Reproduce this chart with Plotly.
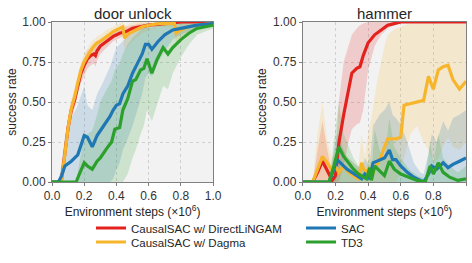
import plotly.graph_objects as go

# ---------------- data: door unlock ----------------
door_red_x = [0, 0.04, 0.06, 0.08, 0.10, 0.12, 0.14, 0.16, 0.18, 0.20, 0.22, 0.24, 0.26, 0.27, 0.28, 0.30, 0.34, 0.38, 0.42, 0.46, 0.50, 0.55, 0.60, 0.70, 0.80, 0.90, 1.0]
door_red_y = [0, 0, 0.02, 0.19, 0.34, 0.45, 0.51, 0.60, 0.68, 0.73, 0.77, 0.79, 0.80, 0.79, 0.82, 0.85, 0.88, 0.91, 0.93, 0.94, 0.96, 0.97, 0.98, 0.99, 1.0, 1.0, 1.0]
door_red_lo = [0, 0, 0, 0.12, 0.28, 0.40, 0.46, 0.55, 0.62, 0.67, 0.71, 0.73, 0.74, 0.72, 0.76, 0.80, 0.84, 0.88, 0.90, 0.92, 0.94, 0.95, 0.97, 0.98, 0.99, 1.0, 1.0]
door_red_hi = [0, 0, 0.05, 0.25, 0.40, 0.50, 0.56, 0.65, 0.73, 0.78, 0.82, 0.84, 0.86, 0.86, 0.87, 0.89, 0.92, 0.94, 0.96, 0.97, 0.98, 0.99, 0.99, 1.0, 1.0, 1.0, 1.0]

door_org_x = [0, 0.04, 0.06, 0.08, 0.10, 0.12, 0.14, 0.16, 0.18, 0.20, 0.22, 0.24, 0.26, 0.28, 0.30, 0.34, 0.38, 0.42, 0.44, 0.45, 0.48, 0.52, 0.56, 0.60, 0.66, 0.72, 0.76, 0.77, 0.80, 0.85, 0.90, 1.0]
door_org_y = [0, 0, 0.01, 0.18, 0.34, 0.46, 0.53, 0.62, 0.70, 0.75, 0.79, 0.82, 0.85, 0.87, 0.88, 0.91, 0.94, 0.96, 0.97, 0.90, 0.93, 0.95, 0.97, 0.98, 0.99, 0.99, 0.99, 0.93, 0.95, 0.97, 0.98, 0.99]
door_org_lo = [0, 0, 0, 0.12, 0.28, 0.41, 0.48, 0.57, 0.65, 0.70, 0.74, 0.77, 0.80, 0.82, 0.84, 0.87, 0.90, 0.92, 0.93, 0.82, 0.86, 0.90, 0.93, 0.95, 0.97, 0.97, 0.97, 0.86, 0.90, 0.94, 0.96, 0.98]
door_org_hi = [0, 0, 0.04, 0.24, 0.40, 0.51, 0.58, 0.67, 0.75, 0.80, 0.84, 0.87, 0.89, 0.91, 0.92, 0.95, 0.97, 0.99, 1.0, 0.97, 0.99, 1.0, 1.0, 1.0, 1.0, 1.0, 1.0, 0.99, 1.0, 1.0, 1.0, 1.0]

door_blue_x = [0, 0.04, 0.06, 0.08, 0.12, 0.16, 0.20, 0.22, 0.25, 0.28, 0.32, 0.36, 0.38, 0.40, 0.42, 0.44, 0.47, 0.50, 0.53, 0.56, 0.58, 0.60, 0.62, 0.66, 0.70, 0.75, 0.80, 0.85, 0.90, 1.0]
door_blue_y = [0, 0, 0.04, 0.10, 0.13, 0.17, 0.29, 0.28, 0.22, 0.29, 0.35, 0.41, 0.45, 0.48, 0.49, 0.55, 0.60, 0.68, 0.74, 0.80, 0.86, 0.86, 0.83, 0.88, 0.92, 0.95, 0.96, 0.97, 0.98, 0.99]
door_blue_lo = [0, 0, 0, 0, 0, 0, 0, 0, 0, 0, 0, 0, 0.02, 0.08, 0.12, 0.20, 0.27, 0.35, 0.45, 0.55, 0.65, 0.68, 0.66, 0.75, 0.82, 0.89, 0.92, 0.94, 0.96, 0.98]
door_blue_hi = [0, 0, 0.12, 0.28, 0.40, 0.48, 0.60, 0.48, 0.45, 0.55, 0.63, 0.72, 0.78, 0.84, 0.86, 0.88, 0.92, 0.95, 0.97, 0.98, 0.99, 0.99, 0.99, 1.0, 1.0, 1.0, 1.0, 1.0, 1.0, 1.0]

door_green_x = [0, 0.15, 0.17, 0.20, 0.22, 0.25, 0.28, 0.30, 0.34, 0.37, 0.39, 0.42, 0.44, 0.47, 0.50, 0.52, 0.55, 0.57, 0.59, 0.62, 0.65, 0.69, 0.72, 0.75, 0.80, 0.85, 0.90, 1.0]
door_green_y = [0, 0, 0.05, 0.12, 0.10, 0.08, 0.13, 0.15, 0.21, 0.25, 0.33, 0.34, 0.45, 0.52, 0.63, 0.64, 0.70, 0.71, 0.77, 0.68, 0.76, 0.84, 0.80, 0.84, 0.89, 0.93, 0.96, 0.98]
door_green_lo = [0, 0, 0, 0, 0, 0, 0, 0, 0, 0, 0, 0, 0, 0.05, 0.15, 0.20, 0.30, 0.35, 0.45, 0.38, 0.48, 0.60, 0.58, 0.68, 0.78, 0.86, 0.92, 0.96]
door_green_hi = [0, 0, 0.12, 0.30, 0.30, 0.32, 0.42, 0.50, 0.58, 0.63, 0.70, 0.74, 0.80, 0.86, 0.90, 0.92, 0.95, 0.96, 0.97, 0.96, 0.98, 0.99, 0.99, 1.0, 1.0, 1.0, 1.0, 1.0]

# ---------------- data: hammer ----------------
ham_red_x = [0, 0.06, 0.09, 0.12, 0.15, 0.18, 0.20, 0.22, 0.25, 0.28, 0.30, 0.33, 0.35, 0.37, 0.40, 0.44, 0.48, 0.52, 0.56, 0.60, 0.70, 1.0]
ham_red_y = [0, 0, 0.06, 0.13, 0.07, 0.01, 0.04, 0.24, 0.42, 0.57, 0.68, 0.71, 0.72, 0.79, 0.87, 0.92, 0.95, 0.98, 0.99, 1.0, 1.0, 1.0]
ham_red_lo = [0, 0, 0, 0, 0, 0, 0, 0, 0.10, 0.25, 0.33, 0.36, 0.37, 0.45, 0.70, 0.85, 0.92, 0.96, 0.98, 1.0, 1.0, 1.0]
ham_red_hi = [0, 0, 0.20, 0.38, 0.20, 0.05, 0.15, 0.50, 0.75, 0.85, 0.92, 0.96, 0.98, 0.99, 1.0, 1.0, 1.0, 1.0, 1.0, 1.0, 1.0, 1.0]

ham_org_x = [0, 0.06, 0.09, 0.12, 0.15, 0.18, 0.20, 0.22, 0.25, 0.28, 0.31, 0.34, 0.36, 0.38, 0.40, 0.42, 0.45, 0.48, 0.50, 0.52, 0.57, 0.60, 0.62, 0.66, 0.70, 0.74, 0.77, 0.80, 0.83, 0.86, 0.89, 0.92, 0.96, 1.0]
ham_org_y = [0, 0, 0.08, 0.16, 0.12, 0.07, 0.10, 0.06, 0.10, 0.06, 0.04, 0.02, 0.12, 0.06, 0.08, 0.03, 0.10, 0.16, 0.22, 0.27, 0.27, 0.28, 0.48, 0.49, 0.50, 0.51, 0.66, 0.58, 0.70, 0.72, 0.73, 0.64, 0.58, 0.63]
ham_org_lo = [0, 0, 0, 0, 0, 0, 0, 0, 0, 0, 0, 0, 0, 0, 0, 0, 0, 0, 0, 0, 0, 0.05, 0.15, 0.30, 0.35, 0.25, 0.20, 0.12, 0.15, 0.22, 0.28, 0.22, 0.20, 0.25]
ham_org_hi = [0, 0, 0.30, 0.50, 0.25, 0.15, 0.20, 0.12, 0.20, 0.15, 0.12, 0.10, 0.30, 0.15, 0.30, 0.40, 0.60, 0.75, 0.85, 0.92, 0.96, 0.97, 0.98, 0.99, 0.99, 0.99, 0.99, 0.99, 0.99, 0.99, 0.99, 0.99, 0.99, 0.99]

ham_blue_x = [0, 0.16, 0.19, 0.21, 0.24, 0.27, 0.30, 0.33, 0.36, 0.38, 0.41, 0.43, 0.47, 0.50, 0.53, 0.55, 0.57, 0.60, 0.64, 0.68, 0.72, 0.74, 0.77, 0.79, 0.82, 0.86, 0.89, 0.92, 0.96, 1.0]
ham_blue_y = [0, 0, 0.08, 0.14, 0.11, 0.08, 0.06, 0.04, 0.02, 0.05, 0.02, 0.12, 0.14, 0.15, 0.20, 0.14, 0.14, 0.10, 0.06, 0.03, 0.01, 0.0, 0.05, 0.10, 0.08, 0.12, 0.09, 0.11, 0.13, 0.15]
ham_blue_lo = [0] * 30
ham_blue_hi = [0, 0, 0.20, 0.30, 0.22, 0.16, 0.13, 0.10, 0.08, 0.15, 0.10, 0.35, 0.42, 0.45, 0.50, 0.42, 0.40, 0.36, 0.25, 0.12, 0.06, 0.05, 0.18, 0.30, 0.25, 0.38, 0.32, 0.40, 0.42, 0.45]

ham_green_x = [0, 0.16, 0.19, 0.22, 0.25, 0.28, 0.31, 0.34, 0.37, 0.39, 0.41, 0.42, 0.44, 0.47, 0.50, 0.53, 0.56, 0.60, 0.65, 0.70, 0.75, 0.78, 0.80, 0.83, 0.86, 0.90, 0.95, 1.0]
ham_green_y = [0, 0, 0.10, 0.22, 0.16, 0.12, 0.08, 0.05, 0.03, 0.02, 0.09, 0.01, 0.10, 0.07, 0.04, 0.13, 0.08, 0.05, 0.03, 0.01, 0.0, 0.10, 0.05, 0.12, 0.06, 0.03, 0.01, 0.02]
ham_green_lo = [0] * 28
ham_green_hi = [0, 0, 0.25, 0.50, 0.30, 0.22, 0.15, 0.10, 0.08, 0.06, 0.20, 0.05, 0.33, 0.20, 0.15, 0.40, 0.22, 0.15, 0.08, 0.04, 0.02, 0.25, 0.12, 0.30, 0.15, 0.10, 0.06, 0.10]

x_ticks = [0.0, 0.2, 0.4, 0.6, 0.8, 1.0]
y_ticks = [0.0, 0.25, 0.5, 0.75, 1.0]
y_tick_labels = ["0.00", "0.25", "0.50", "0.75", "1.00"]
panel_titles = ["door unlock", "hammer"]
series_names = ["CausalSAC w/ DirectLiNGAM", "CausalSAC w/ Dagma", "SAC", "TD3"]

colors = ["#e3221e", "#f7b52c", "#1f77b4", "#2ca02c"]
fills = ["rgba(227,34,30,0.18)", "rgba(247,181,44,0.18)", "rgba(31,119,180,0.18)", "rgba(44,160,44,0.18)"]
legend_ids = ["legend", "legend2", "legend3", "legend4"]

panels = [
    [(door_red_x, door_red_y, door_red_lo, door_red_hi),
     (door_org_x, door_org_y, door_org_lo, door_org_hi),
     (door_blue_x, door_blue_y, door_blue_lo, door_blue_hi),
     (door_green_x, door_green_y, door_green_lo, door_green_hi)],
    [(ham_red_x, ham_red_y, ham_red_lo, ham_red_hi),
     (ham_org_x, ham_org_y, ham_org_lo, ham_org_hi),
     (ham_blue_x, ham_blue_y, ham_blue_lo, ham_blue_hi),
     (ham_green_x, ham_green_y, ham_green_lo, ham_green_hi)],
]

FONT = "Liberation Sans, Arial, sans-serif"
fig = go.Figure()

for p, series in enumerate(panels):
    xa = "x" if p == 0 else "x2"
    ya = "y" if p == 0 else "y2"
    for i, (xs, ys, lo, hi) in enumerate(series):
        fig.add_trace(go.Scatter(
            x=list(xs) + list(xs)[::-1], y=list(hi) + list(lo)[::-1],
            fill="toself", fillcolor=fills[i], line=dict(width=0),
            mode="lines", hoverinfo="skip", showlegend=False, xaxis=xa, yaxis=ya))
    for i, (xs, ys, lo, hi) in enumerate(series):
        fig.add_trace(go.Scatter(
            x=xs, y=ys, mode="lines", name=series_names[i],
            line=dict(color=colors[i], width=3.2),
            showlegend=(p == 0), legend=legend_ids[i], xaxis=xa, yaxis=ya))

axis_common = dict(
    range=[0, 1], showline=True, mirror=True, linecolor="#7f7f7f", linewidth=1,
    showgrid=True, gridcolor="#cfcfcf", griddash="dot", gridwidth=1,
    ticks="outside", ticklen=3, tickcolor="#7f7f7f", zeroline=False,
    tickfont=dict(family=FONT, size=12, color="#333333"),
)

legend_common = dict(orientation="h", yanchor="middle", xanchor="left",
                     itemwidth=30, borderwidth=0,
                     font=dict(family=FONT, size=11.5, color="#262626"),
                     bgcolor="rgba(0,0,0,0)")

row1_y, row2_y = -0.2875, -0.375
col1_x, col2_x = 0.0942, 0.6015

fig.update_layout(
    width=472, height=263,
    margin=dict(l=52, r=6, t=22, b=81, autoexpand=False),
    paper_bgcolor="white", plot_bgcolor="#f2f2f2",
    font=dict(family=FONT, color="#262626"),
    xaxis=dict(domain=[0, 0.389], tickvals=x_ticks, ticktext=[f"{v:.1f}" for v in x_ticks],
               title=dict(text="Environment steps (×10<sup>6</sup>)", font=dict(size=12), standoff=2), **axis_common),
    xaxis2=dict(domain=[0.606, 1.0], tickvals=x_ticks, ticktext=[f"{v:.1f}" for v in x_ticks],
                title=dict(text="Environment steps (×10<sup>6</sup>)", font=dict(size=12), standoff=2), **axis_common),
    yaxis=dict(anchor="x", tickvals=y_ticks, ticktext=y_tick_labels,
               title=dict(text="success rate", font=dict(size=12), standoff=3), **axis_common),
    yaxis2=dict(anchor="x2", tickvals=y_ticks, ticktext=y_tick_labels,
                title=dict(text="success rate", font=dict(size=12), standoff=3), **axis_common),
    legend=dict(x=col1_x, y=row1_y, **legend_common),
    legend2=dict(x=col1_x, y=row2_y, **legend_common),
    legend3=dict(x=col2_x, y=row1_y, **legend_common),
    legend4=dict(x=col2_x, y=row2_y, **legend_common),
    annotations=[
        dict(text=panel_titles[0], x=0.1945, xref="paper", xanchor="center", y=1.0, yref="paper",
             yanchor="bottom", showarrow=False, font=dict(size=15, family=FONT, color="#262626"), yshift=-2),
        dict(text=panel_titles[1], x=0.803, xref="paper", xanchor="center", y=1.0, yref="paper",
             yanchor="bottom", showarrow=False, font=dict(size=15, family=FONT, color="#262626"), yshift=-2),
    ],
)

fig.write_html("out.html", config={"displayModeBar": False},
               post_script="document.body.style.margin='0';")
